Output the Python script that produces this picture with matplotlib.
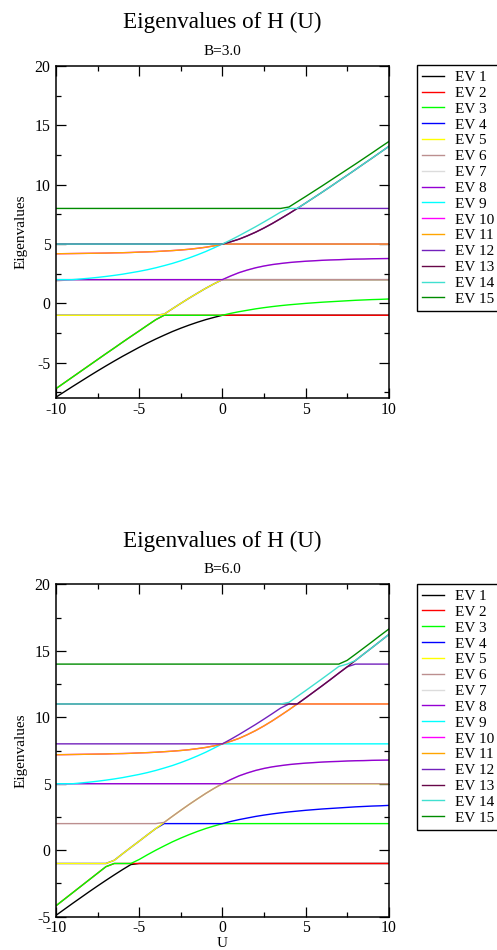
import numpy as np
import matplotlib
matplotlib.use("Agg")
import matplotlib.pyplot as plt

plt.rcParams['font.family'] = ['Liberation Serif', 'DejaVu Serif']
plt.rcParams['axes.unicode_minus'] = False

# U grid (step 0.5)
u = [-10.0, -9.5, -9.0, -8.5, -8.0, -7.5, -7.0, -6.5, -6.0, -5.5, -5.0, -4.5, -4.0, -3.5,
     -3.0, -2.5, -2.0, -1.5, -1.0, -0.5, 0.0, 0.5, 1.0, 1.5, 2.0, 2.5, 3.0, 3.5, 4.0, 4.5,
     5.0, 5.5, 6.0, 6.5, 7.0, 7.5, 8.0, 8.5, 9.0, 9.5, 10.0]

# B = 3.0 : U-dependent branches (b and d are doubly degenerate) + flat levels
a_b3 = [-7.90, -7.45, -7.00, -6.56, -6.12, -5.69, -5.27, -4.86, -4.46, -4.08, -3.70, -3.34, -3.00, -2.68,
        -2.37, -2.09, -1.83, -1.59, -1.37, -1.18, -1.00, -0.84, -0.70, -0.58, -0.46, -0.36, -0.27, -0.19,
        -0.12, -0.06, 0.00, 0.05, 0.10, 0.14, 0.18, 0.22, 0.26, 0.29, 0.32, 0.34, 0.37]
b_b3 = [-7.18, -6.69, -6.20, -5.71, -5.22, -4.73, -4.24, -3.76, -3.27, -2.79, -2.32, -1.84, -1.37, -0.91,
        -0.45, 0.00, 0.44, 0.86, 1.27, 1.65, 2.00, 2.31, 2.59, 2.81, 3.00, 3.15, 3.27, 3.36, 3.44, 3.50,
        3.55, 3.59, 3.63, 3.66, 3.68, 3.71, 3.73, 3.74, 3.76, 3.77, 3.78]
c_b3 = [1.90, 1.95, 2.00, 2.06, 2.12, 2.19, 2.27, 2.36, 2.46, 2.58, 2.70, 2.84, 3.00, 3.18, 3.37, 3.59,
        3.83, 4.09, 4.37, 4.68, 5.00, 5.34, 5.70, 6.08, 6.46, 6.86, 7.27, 7.69, 8.12, 8.56, 9.00, 9.45,
        9.90, 10.36, 10.82, 11.28, 11.74, 12.21, 12.68, 13.16, 13.63]
d_b3 = [4.18, 4.19, 4.20, 4.21, 4.22, 4.23, 4.24, 4.26, 4.27, 4.29, 4.32, 4.34, 4.37, 4.41, 4.45, 4.50,
        4.56, 4.64, 4.73, 4.85, 5.00, 5.19, 5.41, 5.69, 6.00, 6.35, 6.73, 7.14, 7.56, 8.00, 8.45, 8.91,
        9.37, 9.84, 10.32, 10.79, 11.27, 11.76, 12.24, 12.73, 13.22]
flat_b3 = [-1, -1, 2, 2, 2, 5, 5, 5, 8]

# B = 6.0
a_b6 = [-4.90, -4.45, -4.00, -3.56, -3.12, -2.69, -2.27, -1.86, -1.46, -1.08, -0.70, -0.34, 0.00, 0.32,
        0.63, 0.91, 1.17, 1.41, 1.63, 1.82, 2.00, 2.16, 2.30, 2.42, 2.54, 2.64, 2.73, 2.81, 2.88, 2.94,
        3.00, 3.05, 3.10, 3.14, 3.18, 3.22, 3.26, 3.29, 3.32, 3.34, 3.37]
b_b6 = [-4.18, -3.69, -3.20, -2.71, -2.22, -1.73, -1.24, -0.76, -0.27, 0.21, 0.68, 1.16, 1.63, 2.09,
        2.55, 3.00, 3.44, 3.86, 4.27, 4.65, 5.00, 5.31, 5.59, 5.81, 6.00, 6.15, 6.27, 6.36, 6.44, 6.50,
        6.55, 6.59, 6.63, 6.66, 6.68, 6.71, 6.73, 6.74, 6.76, 6.77, 6.78]
c_b6 = [4.90, 4.95, 5.00, 5.06, 5.12, 5.19, 5.27, 5.36, 5.46, 5.58, 5.70, 5.84, 6.00, 6.18, 6.37, 6.59,
        6.83, 7.09, 7.37, 7.68, 8.00, 8.34, 8.70, 9.08, 9.46, 9.86, 10.27, 10.69, 11.12, 11.56, 12.00,
        12.45, 12.90, 13.36, 13.82, 14.28, 14.74, 15.21, 15.68, 16.16, 16.63]
d_b6 = [7.18, 7.19, 7.20, 7.21, 7.22, 7.23, 7.24, 7.26, 7.27, 7.29, 7.32, 7.34, 7.37, 7.41, 7.45, 7.50,
        7.56, 7.64, 7.73, 7.85, 8.00, 8.19, 8.41, 8.69, 9.00, 9.35, 9.73, 10.14, 10.56, 11.00, 11.45,
        11.91, 12.37, 12.84, 13.32, 13.79, 14.27, 14.76, 15.24, 15.73, 16.22]
flat_b6 = [-1, -1, 2, 5, 5, 8, 11, 11, 14]

labels = ["EV %d" % i for i in range(1, 16)]

# xmgrace default colour map 1..15
colors = ["#000000", "#ff0000", "#00ff00", "#0000ff", "#ffff00", "#bc8f8f",
          "#dcdcdc", "#9400d3", "#00ffff", "#ff00ff", "#ffa500", "#7221bc",
          "#670748", "#40e0d0", "#008b00"]


def sorted_levels(a, b, c, d, flat):
    rows = [a, b, b, c, d, d] + [[f] * len(u) for f in flat]
    return np.sort(np.array(rows, dtype=float), axis=0)


fig = plt.figure(figsize=(4.97, 9.5), dpi=100)

panels = [
    (sorted_levels(a_b3, b_b3, c_b3, d_b3, flat_b3), "B=3.0", 0.5807, -8, 0.9702, 0.9421, 0.9316),
    (sorted_levels(a_b6, b_b6, c_b6, d_b6, flat_b6), "B=6.0", 0.0351, -5, 0.4245, 0.3965, 0.3853),
]

for ev, sub, bottom, ymin, ytitle, ysub, yleg in panels:
    ax = fig.add_axes([0.1127, bottom, 0.6694, 0.3498])
    lines = []
    for i in range(15):
        ln, = ax.plot(u, ev[i], color=colors[i], lw=1.0)
        lines.append(ln)
    ax.set_xticks([-10, -5, 0, 5, 10])
    ax.set_yticks([-5, 0, 5, 10, 15, 20])
    ax.set_xticks([-7.5, -2.5, 2.5, 7.5], minor=True)
    ax.set_yticks([t for t in np.arange(-7.5, 20, 2.5) if t >= ymin], minor=True)
    ax.set_xlim(-10, 10)
    ax.set_ylim(ymin, 20)
    ax.tick_params(which='both', direction='in', top=True, right=True, width=0.9, labelsize=11.3)
    ax.tick_params(which='major', length=7)
    ax.tick_params(which='minor', length=3.5)
    ax.tick_params(axis='x', pad=2.5)
    ax.tick_params(axis='y', pad=4)
    for s in ax.spines.values():
        s.set_linewidth(1.1)

    fig.text(0.4473, ytitle, "Eigenvalues of H (U)", ha='center', va='baseline', fontsize=16.7)
    fig.text(0.4473, ysub, sub, ha='center', va='baseline', fontsize=11)
    fig.text(0.0416, bottom + 0.1749, "Eigenvalues", rotation=90, ha='center', va='center', fontsize=11)

    fig.legend(lines, labels, loc='upper left', bbox_to_anchor=(0.8384, yleg),
               bbox_transform=fig.transFigure, fontsize=11, frameon=True, fancybox=False,
               edgecolor='black', framealpha=1, borderpad=0.35, labelspacing=0.14,
               handlelength=1.46, handletextpad=0.72, borderaxespad=0)

fig.text(0.4473, 0.0035, "U", ha='center', va='baseline', fontsize=11)

fig.savefig("out.png", dpi=100)
